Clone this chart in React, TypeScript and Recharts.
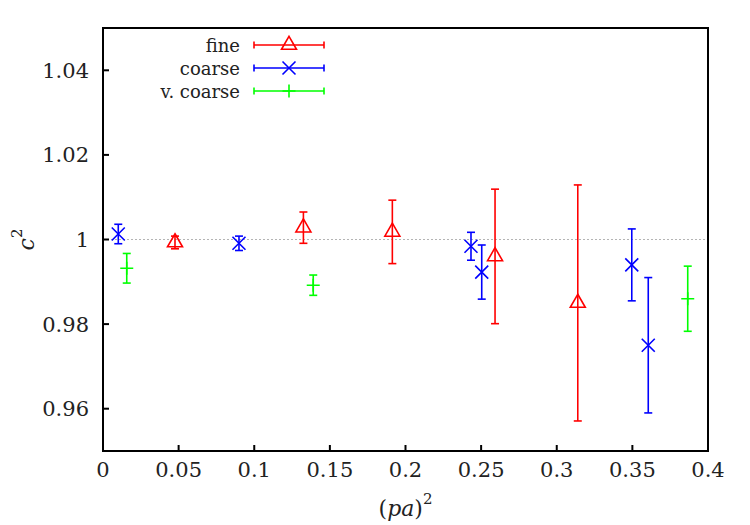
import React from 'react'
import {
  ScatterChart,
  Scatter,
  XAxis,
  YAxis,
  ErrorBar,
  ReferenceLine,
  Legend,
} from 'recharts'

// (pa)^2 positions, c^2 values and their errors per lattice
const fineX = [0.0476, 0.1325, 0.1913, 0.2592, 0.3139]
const fineY = [0.9993, 1.0028, 1.0018, 0.996, 0.985]
const fineErr = [0.0015, 0.0037, 0.0075, 0.0159, 0.0279]

const coarseX = [0.0101, 0.0899, 0.2433, 0.2504, 0.3496, 0.3605]
const coarseY = [1.0013, 0.9991, 0.9984, 0.9923, 0.994, 0.975]
const coarseErr = [0.0023, 0.0017, 0.0033, 0.0064, 0.0085, 0.016]

const vcoarseX = [0.0157, 0.139, 0.3866]
const vcoarseY = [0.9932, 0.9892, 0.986]
const vcoarseErr = [0.0035, 0.0024, 0.0077]

const seriesOrder = ['fine', 'coarse', 'v. coarse']

const xTicks = [0, 0.05, 0.1, 0.15, 0.2, 0.25, 0.3, 0.35, 0.4]
const yTicks = [0.96, 0.98, 1, 1.02, 1.04]

const FONT = 'DejaVu Serif'
const TEXT = '#222'
const RED = '#ff0000'
const BLUE = '#0000ff'
const GREEN = '#00ff00'

const toRows = (xs: number[], ys: number[], errs: number[]) =>
  xs.map((x, i) => ({ x, y: ys[i], err: errs[i] }))

const fineData = toRows(fineX, fineY, fineErr)
const coarseData = toRows(coarseX, coarseY, coarseErr)
const vcoarseData = toRows(vcoarseX, vcoarseY, vcoarseErr)

type MarkProps = { cx?: number; cy?: number; color: string }

const TriangleMark = ({ cx = 0, cy = 0, color }: MarkProps) => (
  <path
    d={`M${cx} ${cy - 8.7} L${cx + 7.5} ${cy + 4.3} L${cx - 7.5} ${cy + 4.3} Z`}
    fill="none"
    stroke={color}
    strokeWidth={1.6}
  />
)

const CrossMark = ({ cx = 0, cy = 0, color }: MarkProps) => (
  <path
    d={`M${cx - 6.5} ${cy - 6.5} L${cx + 6.5} ${cy + 6.5} M${cx - 6.5} ${cy + 6.5} L${cx + 6.5} ${cy - 6.5}`}
    stroke={color}
    strokeWidth={1.6}
  />
)

const PlusMark = ({ cx = 0, cy = 0, color }: MarkProps) => (
  <path
    d={`M${cx - 6.5} ${cy} L${cx + 6.5} ${cy} M${cx} ${cy - 6.5} L${cx} ${cy + 6.5}`}
    stroke={color}
    strokeWidth={1.6}
  />
)

const MARKS: Record<string, (p: MarkProps) => React.ReactElement> = {
  fine: TriangleMark,
  coarse: CrossMark,
  'v. coarse': PlusMark,
}

const LegendBox = ({ payload }: { payload?: Array<{ value: string; color: string }> }) => {
  const items = [...(payload ?? [])].sort(
    (a, b) => seriesOrder.indexOf(a.value) - seriesOrder.indexOf(b.value)
  )
  return (
    <svg width={200} height={76}>
      {items.map((item, i) => {
        const y = 15 + i * 23
        const Mark = MARKS[item.value]
        return (
          <g key={item.value}>
            <text
              x={100}
              y={y}
              textAnchor="end"
              dominantBaseline="central"
              fontFamily={FONT}
              fontSize={18}
              fill={TEXT}
            >
              {item.value}
            </text>
            <path
              d={`M114 ${y} L184 ${y} M114 ${y - 3.5} L114 ${y + 3.5} M184 ${y - 3.5} L184 ${y + 3.5}`}
              stroke={item.color}
              strokeWidth={1.6}
            />
            {Mark && <Mark cx={149} cy={y} color={item.color} />}
          </g>
        )
      })}
    </svg>
  )
}

const XLabel = ({ viewBox }: any) => {
  const cx = viewBox.x + viewBox.width / 2
  const cy = viewBox.y + 57
  return (
    <text x={cx} y={cy} textAnchor="middle" dominantBaseline="central" fontFamily={FONT} fontSize={22} fill={TEXT}>
      (<tspan fontStyle="italic">pa</tspan>)<tspan dy={-9} fontSize={15}>2</tspan>
    </text>
  )
}

const YLabel = ({ viewBox }: any) => {
  const cx = viewBox.x + 18
  const cy = viewBox.y + viewBox.height / 2
  return (
    <text
      x={cx}
      y={cy}
      transform={`rotate(-90 ${cx} ${cy})`}
      textAnchor="middle"
      dominantBaseline="central"
      fontFamily={FONT}
      fontSize={22}
      fill={TEXT}
    >
      <tspan fontStyle="italic">c</tspan>
      <tspan dy={-9} fontSize={15}>2</tspan>
    </text>
  )
}

const border = { stroke: '#000', strokeWidth: 2, strokeLinecap: 'square' as const }
const tickStroke = { stroke: '#000', strokeWidth: 2 }
const tickFont = { fontFamily: FONT, fontSize: 21, fill: TEXT }

export default function App() {
  return (
    <ScatterChart width={730} height={517} margin={{ top: 0, right: 0, bottom: 0, left: 0 }}>
      <XAxis
        xAxisId={0}
        type="number"
        dataKey="x"
        domain={[0, 0.4]}
        ticks={xTicks}
        height={74}
        tickSize={-6}
        tickMargin={17}
        axisLine={border}
        tickLine={tickStroke}
        tick={tickFont}
        label={<XLabel />}
      />
      <XAxis
        xAxisId="top"
        orientation="top"
        type="number"
        dataKey="x"
        domain={[0, 0.4]}
        ticks={xTicks}
        height={20}
        tickSize={-6}
        axisLine={border}
        tickLine={tickStroke}
        tickFormatter={() => ''}
      />
      <YAxis
        yAxisId={0}
        type="number"
        dataKey="y"
        domain={[0.95, 1.05]}
        ticks={yTicks}
        width={95}
        tickSize={-6}
        tickMargin={20}
        axisLine={border}
        tickLine={tickStroke}
        tick={tickFont}
        label={<YLabel />}
      />
      <YAxis
        yAxisId="right"
        orientation="right"
        type="number"
        dataKey="y"
        domain={[0.95, 1.05]}
        ticks={yTicks}
        width={30}
        tickSize={-6}
        axisLine={border}
        tickLine={tickStroke}
        tickFormatter={() => ''}
      />
      <ReferenceLine y={1} stroke="#b4b4b4" strokeWidth={1} strokeDasharray="2 2" />
      <Legend
        layout="vertical"
        align="center"
        verticalAlign="middle"
        content={<LegendBox />}
        wrapperStyle={{ position: 'absolute', left: 132, top: 22, width: 200 }}
      />
      <Scatter
        name="fine"
        data={fineData}
        fill={RED}
        isAnimationActive={false}
        shape={(p: any) => <TriangleMark cx={p.cx} cy={p.cy} color={RED} />}
      >
        <ErrorBar dataKey="err" direction="y" width={4} stroke={RED} strokeWidth={1.6} />
      </Scatter>
      <Scatter
        name="coarse"
        data={coarseData}
        fill={BLUE}
        isAnimationActive={false}
        shape={(p: any) => <CrossMark cx={p.cx} cy={p.cy} color={BLUE} />}
      >
        <ErrorBar dataKey="err" direction="y" width={4} stroke={BLUE} strokeWidth={1.6} />
      </Scatter>
      <Scatter
        name="v. coarse"
        data={vcoarseData}
        fill={GREEN}
        isAnimationActive={false}
        shape={(p: any) => <PlusMark cx={p.cx} cy={p.cy} color={GREEN} />}
      >
        <ErrorBar dataKey="err" direction="y" width={4} stroke={GREEN} strokeWidth={1.6} />
      </Scatter>
    </ScatterChart>
  )
}
